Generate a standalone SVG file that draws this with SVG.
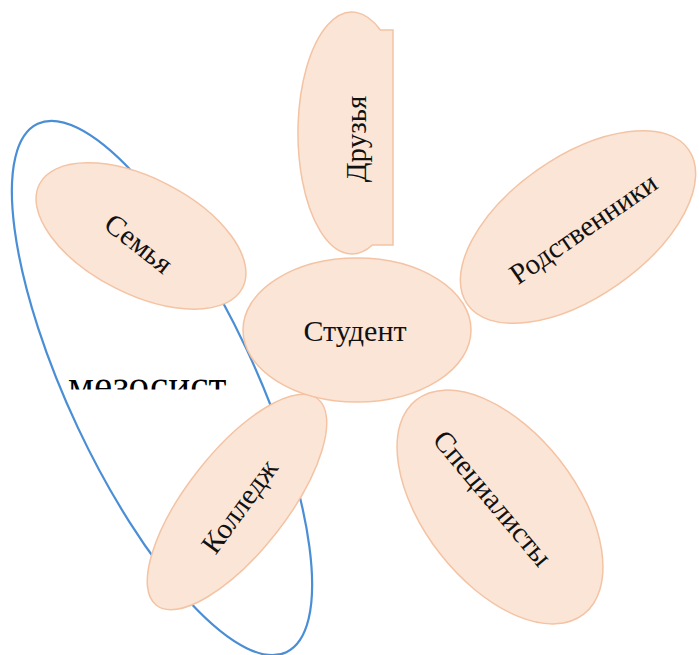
<svg xmlns="http://www.w3.org/2000/svg" width="699" height="655" viewBox="0 0 699 655">
<style>
.petal{fill:#fbe5d6;stroke:#f4c3a3;stroke-width:1.5}
.lbl{font-family:"Liberation Serif","Times New Roman",serif;font-size:29px;fill:#111;text-anchor:middle}
.meso{font-family:"Liberation Serif","Times New Roman",serif;font-size:41px;fill:#000}
</style>
<defs>
<clipPath id="mclip"><rect x="40" y="360" width="230" height="29.5"/></clipPath>
</defs>
<rect width="699" height="655" fill="#fff"/>
<g id="mesosystem">
<text class="meso" x="68" y="399" clip-path="url(#mclip)">мезосист</text>
<ellipse cx="162" cy="388" rx="93" ry="292" transform="rotate(-25.2 162 388)" fill="none" stroke="#4a8ed6" stroke-width="2.2"/>
</g>
<g id="connectors"></g>
<g id="druzya">
<path class="petal" d="M380.3 30 A54 121 0 1 0 372.4 245 L393 245 L393 30 Z"/>
<text class="lbl" x="0" y="0" dy="0.35em" transform="translate(356 139) rotate(-90)">Друзья</text>
</g>
<g id="semya">
<ellipse class="petal" cx="141" cy="236" rx="114" ry="58" transform="rotate(27 141 236)"/>
<text class="lbl" x="0" y="0" dy="0.35em" transform="translate(139 243) rotate(38)">Семья</text>
</g>
<g id="rodstvenniki">
<ellipse class="petal" cx="578" cy="227" rx="135" ry="70" transform="rotate(-35 578 227)"/>
<text class="lbl" x="0" y="0" dy="0.35em" transform="translate(583 228) rotate(-34.6)">Родственники</text>
</g>
<g id="kolledzh">
<ellipse class="petal" cx="237" cy="502" rx="131" ry="50" transform="rotate(-52 237 502)"/>
<text class="lbl" x="0" y="0" dy="0.35em" transform="translate(239 506) rotate(-54)">Колледж</text>
</g>
<g id="specialisty">
<ellipse class="petal" cx="500" cy="507" rx="136" ry="76" transform="rotate(52 500 507)"/>
<text class="lbl" x="0" y="0" dy="0.35em" transform="translate(493 498) rotate(50)">Специалисты</text>
</g>
<g id="student">
<ellipse class="petal" cx="357" cy="330" rx="114" ry="72"/>
<text class="lbl" x="355" y="330" dy="0.35em" style="font-size:30px">Студент</text>
</g>
</svg>
